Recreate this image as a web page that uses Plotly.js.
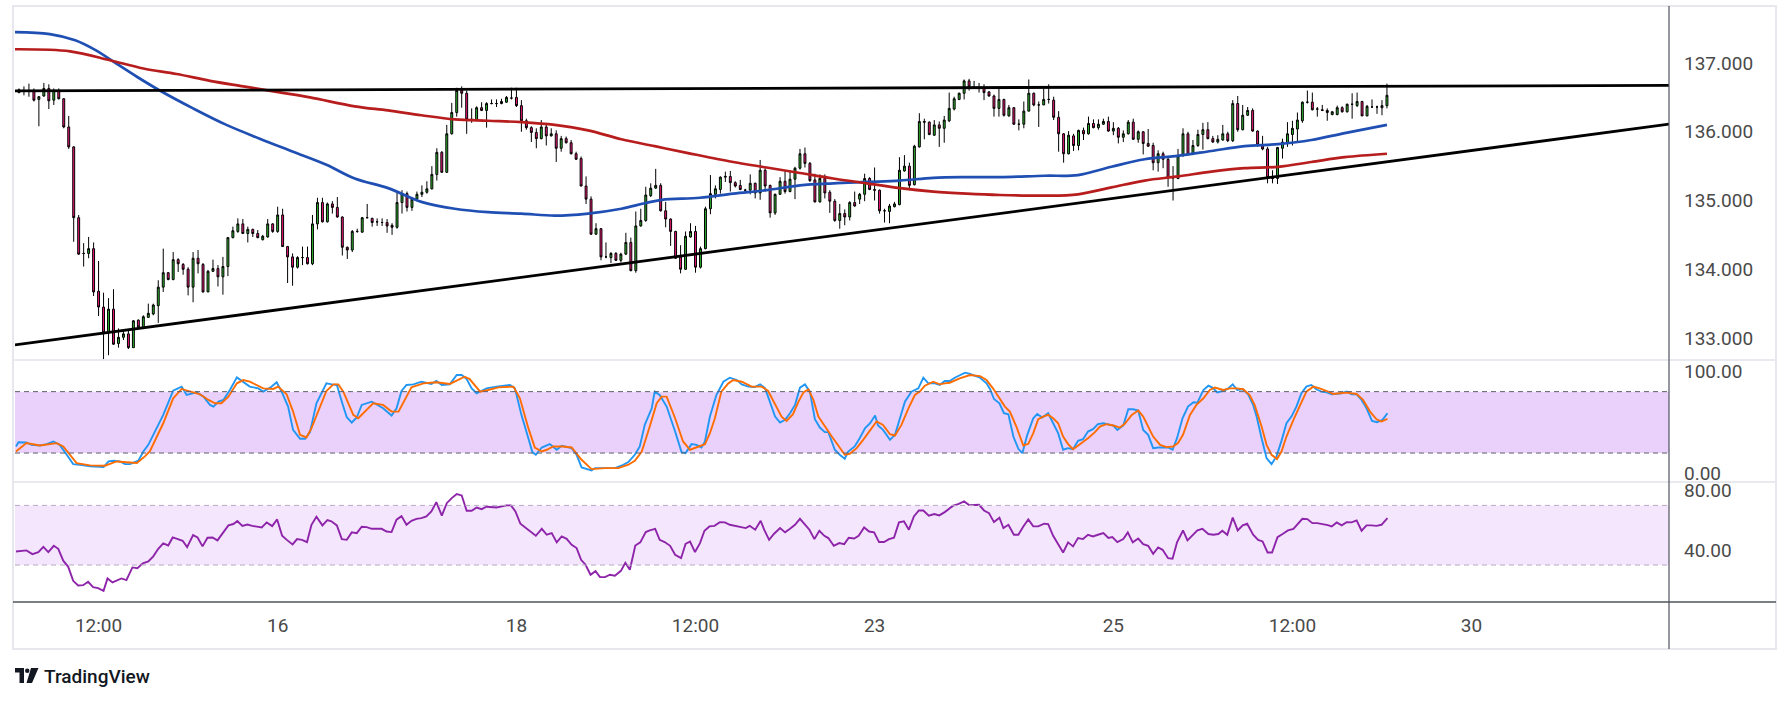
<!DOCTYPE html>
<html><head><meta charset="utf-8">
<script src="https://cdn.plot.ly/plotly-3.0.1.min.js"></script>
<style>html,body{margin:0;padding:0;background:#fff;overflow:hidden;} #chart{width:1791px;height:703px;}</style>
</head><body><div id="chart"></div>
<script>
// ---------- price candles (hourly bars, index 0..275) ----------
const openP = [136.61,136.60,136.59,136.60,136.47,136.52,136.63,136.46,136.60,136.48,
136.07,135.78,134.75,134.23,134.23,134.30,133.68,133.45,133.08,133.42,
132.92,133.01,133.06,132.86,133.26,133.15,133.30,133.35,133.47,133.74,
133.95,133.85,134.14,134.07,134.00,133.74,134.16,134.07,133.67,133.97,
134.01,133.89,134.04,134.46,134.55,134.66,134.52,134.58,134.52,134.43,
134.47,134.66,134.55,134.79,134.33,134.18,134.03,134.17,134.17,134.08,
134.66,134.97,134.69,134.95,134.90,134.76,134.32,134.28,134.55,134.54,
134.75,134.74,134.69,134.68,134.68,134.64,134.61,134.97,135.10,134.90,
135.02,135.09,135.12,135.17,135.38,135.70,135.41,135.97,136.28,136.60,
136.56,136.18,136.17,136.35,136.31,136.41,136.41,136.41,136.43,136.49,
136.50,136.38,136.16,136.06,135.99,135.90,136.07,135.94,135.97,135.76,
135.90,135.84,135.68,135.61,135.21,135.02,134.51,134.59,134.18,134.17,
134.23,134.13,134.22,134.39,133.98,134.63,134.71,135.07,135.18,135.22,
134.85,134.73,134.55,134.18,134.00,134.47,134.55,134.03,134.30,134.88,
135.09,135.16,135.34,135.35,135.26,135.22,135.15,135.15,135.25,135.11,
135.44,135.22,134.82,135.09,135.28,135.13,135.31,135.47,135.68,135.54,
135.30,134.98,135.32,135.12,134.99,134.71,134.81,134.76,134.97,135.02,
135.09,135.32,135.16,135.15,134.85,134.84,134.91,134.94,135.43,135.50,
135.23,135.78,136.15,136.14,135.95,136.10,136.05,136.16,136.33,136.47,
136.56,136.74,136.65,136.64,136.64,136.58,136.52,136.34,136.47,136.23,
136.35,136.11,136.11,136.30,136.56,136.39,136.39,136.47,136.46,136.21,
135.97,135.68,135.94,135.80,136.02,135.97,136.12,136.06,136.11,136.15,
136.01,136.05,135.92,135.97,136.14,135.89,136.00,135.83,135.80,135.55,
135.68,135.60,135.33,135.32,135.65,135.97,135.67,135.80,135.96,136.03,
135.90,135.85,135.88,135.97,135.87,136.41,136.03,136.24,136.31,136.01,
135.81,135.75,135.33,135.32,135.76,135.84,135.96,136.04,136.16,136.43,
136.43,136.33,136.32,136.31,136.25,136.25,136.35,136.29,136.40,136.38,
136.44,136.23,136.36,136.36,136.35,136.38];
const highP = [136.63,136.66,136.70,136.63,136.52,136.71,136.69,136.63,136.63,136.49,
136.23,135.79,134.79,134.38,134.47,134.39,134.12,133.66,133.58,133.71,
133.14,133.13,133.13,133.26,133.27,133.33,133.50,133.50,133.84,134.30,
133.96,134.25,134.16,134.09,134.03,134.25,134.28,134.09,133.99,134.14,
134.06,134.18,134.47,134.62,134.74,134.73,134.62,134.59,134.57,134.50,
134.73,134.67,134.91,134.88,134.34,134.23,134.19,134.33,134.33,134.79,
135.04,135.04,134.97,134.99,135.05,134.77,134.33,134.57,134.59,134.76,
134.95,134.75,134.74,134.74,134.73,134.67,135.13,135.15,135.13,135.05,
135.13,135.22,135.28,135.50,135.76,135.72,136.10,136.42,136.64,136.66,
136.60,136.34,136.37,136.43,136.43,136.47,136.47,136.48,136.52,136.64,
136.64,136.46,136.19,136.08,136.05,136.17,136.10,136.05,136.02,135.94,
135.93,135.88,135.71,135.64,135.35,135.06,134.67,134.60,134.39,134.25,
134.25,134.24,134.53,134.46,134.84,134.88,135.20,135.25,135.46,135.25,
134.98,134.74,134.56,134.35,134.55,134.67,134.63,134.33,134.91,135.37,
135.22,135.35,135.42,135.43,135.28,135.30,135.17,135.38,135.26,135.59,
135.47,135.23,135.10,135.34,135.44,135.44,135.49,135.75,135.77,135.56,
135.39,135.38,135.38,135.15,135.02,134.95,134.87,134.99,135.13,135.11,
135.39,135.34,135.48,135.16,134.88,134.95,134.98,135.63,135.66,135.55,
135.81,136.27,136.19,136.15,136.17,136.15,136.23,136.57,136.51,136.57,
136.76,136.77,136.74,136.71,136.69,136.59,136.54,136.63,136.48,136.39,
136.36,136.18,136.44,136.76,136.57,136.44,136.63,136.69,136.51,136.30,
135.98,136.01,135.97,136.03,136.06,136.22,136.18,136.18,136.19,136.22,
136.14,136.07,136.02,136.17,136.19,136.02,136.01,136.04,135.84,135.73,
135.71,135.65,135.50,135.75,136.05,136.00,135.88,136.03,136.13,136.14,
135.94,135.95,136.10,136.00,136.46,136.52,136.39,136.36,136.34,136.02,
135.94,135.78,135.44,135.78,135.90,136.14,136.16,136.28,136.44,136.60,
136.57,136.36,136.39,136.34,136.30,136.38,136.37,136.41,136.56,136.57,
136.45,136.39,136.47,136.38,136.46,136.70];
const lowP = [136.56,136.53,136.51,136.44,136.08,136.51,136.33,136.39,136.47,136.05,
135.75,134.40,134.21,134.04,134.16,133.61,133.32,132.69,132.75,132.90,
132.86,132.97,132.84,132.86,133.15,133.13,133.30,133.33,133.22,133.67,
133.84,133.84,133.96,133.92,133.62,133.52,133.94,133.66,133.67,133.96,
133.75,133.63,133.90,134.45,134.53,134.52,134.39,134.47,134.45,134.42,
134.46,134.53,134.53,134.33,133.80,133.76,134.01,134.06,134.07,134.06,
134.58,134.68,134.68,134.81,134.75,134.20,134.15,134.25,134.53,134.53,
134.74,134.62,134.63,134.63,134.53,134.50,134.59,134.81,134.84,134.85,
134.99,135.05,135.10,135.16,135.29,135.40,135.40,135.96,136.22,136.35,
135.97,136.13,136.16,136.30,136.06,136.40,136.36,136.40,136.42,136.47,
136.36,136.00,136.03,135.85,135.76,135.89,135.80,135.93,135.56,135.71,
135.83,135.67,135.59,135.21,134.95,134.50,134.50,134.13,134.16,134.09,
134.12,134.10,134.21,133.97,133.95,134.62,134.69,135.05,135.17,134.84,
134.61,134.34,134.15,133.94,133.99,134.46,133.95,134.01,134.29,134.80,
135.03,135.10,135.27,135.13,135.19,135.15,135.13,135.09,135.03,135.01,
135.13,134.75,134.79,135.08,135.10,135.12,135.02,135.45,135.48,135.27,
134.97,134.97,135.03,134.82,134.69,134.59,134.64,134.71,134.91,134.95,
134.99,135.15,135.00,134.81,134.68,134.67,134.90,134.93,135.42,135.17,
135.22,135.77,135.89,135.95,135.94,135.78,135.84,136.14,136.31,136.46,
136.47,136.60,136.63,136.57,136.46,136.51,136.22,136.22,136.22,136.22,
136.10,136.02,136.05,136.30,136.37,136.07,136.39,136.41,136.17,135.71,
135.55,135.67,135.72,135.73,135.88,135.96,136.05,136.03,136.10,136.00,
135.95,135.83,135.85,135.96,135.88,135.84,135.67,135.78,135.44,135.42,
135.47,135.20,135.00,135.31,135.64,135.66,135.66,135.78,135.74,135.89,
135.84,135.83,135.87,135.85,135.85,136.00,136.02,136.23,136.00,135.78,
135.73,135.25,135.25,135.24,135.61,135.78,135.80,135.84,136.13,136.41,
136.31,136.22,136.30,136.16,136.24,136.24,136.28,136.28,136.19,136.36,
136.23,136.23,136.35,136.26,136.24,136.34];
const closeP = [136.57,136.59,136.60,136.46,136.51,136.63,136.45,136.60,136.48,136.07,
135.78,134.75,134.22,134.23,134.30,133.67,133.45,133.08,133.42,132.91,
133.01,133.06,132.86,133.25,133.16,133.31,133.36,133.48,133.74,133.95,
133.85,134.14,134.08,134.00,133.74,134.16,134.08,133.67,133.97,134.01,
133.89,134.04,134.46,134.56,134.66,134.52,134.58,134.52,134.46,134.48,
134.66,134.55,134.79,134.33,134.18,134.03,134.17,134.17,134.08,134.66,
134.97,134.69,134.95,134.90,134.76,134.32,134.28,134.55,134.55,134.75,
134.75,134.68,134.69,134.68,134.63,134.61,134.97,135.10,134.90,135.02,
135.09,135.12,135.17,135.38,135.70,135.41,135.97,136.28,136.60,136.56,
136.18,136.18,136.35,136.31,136.41,136.41,136.41,136.44,136.50,136.49,
136.38,136.16,136.06,135.99,135.90,136.07,135.94,135.97,135.76,135.90,
135.84,135.68,135.60,135.21,135.02,134.51,134.59,134.18,134.18,134.23,
134.13,134.22,134.39,133.98,134.63,134.71,135.08,135.18,135.22,134.85,
134.73,134.55,134.16,134.00,134.48,134.55,134.03,134.30,134.88,135.10,
135.17,135.34,135.35,135.26,135.21,135.16,135.15,135.25,135.11,135.44,
135.21,134.82,135.09,135.28,135.13,135.31,135.47,135.68,135.54,135.29,
134.98,135.32,135.11,134.99,134.71,134.81,134.76,134.97,134.92,135.09,
135.32,135.16,135.15,134.85,134.85,134.92,134.95,135.44,135.50,135.22,
135.79,136.15,136.14,135.96,136.10,136.05,136.17,136.34,136.48,136.56,
136.74,136.65,136.64,136.64,136.57,136.52,136.34,136.47,136.24,136.35,
136.11,136.11,136.30,136.56,136.39,136.39,136.47,136.47,136.21,135.97,
135.68,135.95,135.80,136.02,135.97,136.12,136.06,136.11,136.15,136.01,
136.05,135.92,135.97,136.14,135.89,136.00,135.83,135.79,135.55,135.68,
135.60,135.33,135.33,135.65,135.97,135.67,135.80,135.96,136.03,135.90,
135.85,135.89,135.97,135.87,136.41,136.03,136.24,136.31,136.01,135.81,
135.75,135.33,135.32,135.77,135.85,135.97,136.05,136.17,136.43,136.43,
136.32,136.33,136.31,136.28,136.29,136.35,136.29,136.40,136.40,136.44,
136.23,136.37,136.36,136.36,136.38,136.53];

// ---------- moving averages (bar index, price) ----------
const maBlueIdx = [-0.8,6.2,11.3,15.3,19.6,23.7,28.3,35.0,41.7,48.4,55.1,61.8,67.5,74.2,80.9,87.6,94.3,101.0,107.7,114.4,121.1,125.8,129.2,136.9,143.6,150.3,157.0,163.7,170.4,177.1,183.8,190.5,197.2,206.2,212.9,219.6,226.3,233.0,239.7,246.4,253.1,259.8,266.5,275];
const maBlue = [137.45,137.42,137.33,137.19,136.99,136.80,136.60,136.34,136.10,135.90,135.71,135.52,135.32,135.18,134.98,134.88,134.83,134.81,134.78,134.81,134.88,134.96,135.01,135.04,135.10,135.15,135.22,135.25,135.27,135.29,135.33,135.34,135.34,135.36,135.37,135.49,135.60,135.65,135.72,135.79,135.82,135.88,135.98,136.10];
const maRedIdx = [-0.8,10.3,18.3,25.0,31.7,38.4,45.1,51.8,58.5,67.5,74.2,80.9,87.6,94.3,101.0,107.7,114.4,121.1,127.8,134.5,143.6,150.3,157.0,163.7,170.4,177.1,183.8,190.5,197.2,206.2,212.9,219.6,226.3,233.0,239.7,246.4,253.1,259.8,266.5,275];
const maRed = [137.20,137.17,137.04,136.92,136.84,136.74,136.66,136.58,136.50,136.37,136.31,136.24,136.18,136.16,136.14,136.10,136.02,135.89,135.79,135.69,135.56,135.48,135.40,135.32,135.25,135.18,135.13,135.10,135.08,135.07,135.09,135.19,135.29,135.35,135.42,135.47,135.49,135.56,135.63,135.68];

// ---------- trend lines ----------
const trendIdx = [-0.8, 331.7];
const resistance = [136.595, 136.675];
const support = [132.90, 136.11];

// ---------- stochastic ----------
const stochKIdx = [-0.6,-0.1,1.5,2.5,4.2,5.6,6.9,8.2,9.6,10.9,12.3,14.3,17.0,18.0,19.0,20.3,21.3,22.3,24.0,25.0,26.0,27.0,29.0,31.0,32.7,33.7,35.7,37.1,38.4,39.1,40.1,41.1,42.4,43.8,45.1,46.4,48.1,49.1,50.5,51.8,52.8,54.1,55.1,56.5,57.5,58.5,59.8,61.2,61.8,62.9,63.9,64.9,65.9,66.9,67.9,68.9,69.9,70.9,71.9,73.2,74.9,75.9,76.9,77.9,79.3,80.9,82.9,83.9,85.0,86.6,88.0,89.0,90.0,91.0,92.0,94.0,96.0,98.7,99.7,101.0,102.4,103.2,103.9,105.1,106.7,108.1,109.1,111.1,112.1,113.1,115.1,115.8,119.8,121.1,122.5,123.8,124.8,125.8,127.2,127.8,128.8,130.2,131.9,133.2,134.0,135.2,136.2,137.2,137.9,138.9,140.2,141.6,142.9,144.3,145.3,146.6,147.9,149.0,150.0,151.0,152.0,153.0,154.0,155.0,156.0,157.0,158.0,159.0,160.0,161.0,162.0,162.7,164.0,165.0,166.0,166.7,168.0,169.0,170.1,171.1,172.1,172.7,173.7,175.1,176.1,177.1,178.1,179.4,180.8,181.8,182.8,184.1,185.1,186.1,187.1,188.1,189.1,190.2,191.2,192.2,193.2,194.5,195.2,196.0,197.1,198.0,198.9,199.9,200.9,201.7,202.7,203.9,204.7,205.7,206.9,207.9,208.9,209.9,210.9,211.9,212.9,213.9,214.9,215.9,216.9,218.0,219.0,220.0,220.8,222.0,223.0,224.0,225.0,226.0,227.0,228.0,229.0,231.0,231.9,232.8,233.9,235.0,236.1,236.9,238.1,239.1,239.9,240.9,241.9,242.9,244.0,244.9,246.0,247.1,248.1,248.8,249.8,250.8,251.8,252.8,253.8,254.8,255.8,256.8,257.8,258.8,259.8,260.8,261.8,262.9,263.9,264.9,265.9,266.9,267.9,268.9,269.9,270.9,272.0,273.0,274.1,275.1];
const stochK = [26.4,30.6,30.3,28.0,27.4,28.7,31.3,28.0,18.3,9.2,8.6,7.0,6.3,11.8,12.5,11.8,9.2,9.2,12.5,21.5,28.0,37.8,57.3,81.0,84.9,76.7,79.3,75.1,67.0,65.4,70.2,71.9,81.6,93.9,89.7,84.9,83.2,80.0,83.9,89.1,80.0,65.4,42.6,33.9,33.9,40.4,68.6,83.2,88.1,87.1,86.5,70.2,55.0,49.8,54.7,67.0,68.6,70.2,67.6,63.7,56.6,63.7,80.6,86.5,87.1,89.7,87.5,90.4,86.5,87.1,96.2,96.2,92.3,83.2,78.4,83.2,84.9,86.5,83.2,57.3,34.5,20.9,18.3,25.4,28.7,23.2,27.1,24.8,18.3,6.0,3.0,5.3,5.3,7.6,11.2,18.3,26.4,47.5,63.7,80.0,76.7,65.4,41.0,20.9,19.9,28.7,28.0,25.4,31.3,55.6,76.7,89.7,93.6,91.3,87.1,84.9,84.5,87.1,83.2,70.2,55.6,49.8,52.4,58.9,67.0,83.9,87.1,80.0,53.0,44.9,40.4,40.4,23.2,18.3,14.4,21.5,26.4,34.5,44.3,49.1,56.6,46.9,42.6,32.9,37.8,54.0,70.2,80.0,83.2,93.6,88.1,88.1,86.5,90.4,90.4,93.6,95.6,98.5,97.2,95.6,93.6,88.1,82.6,72.8,68.6,58.9,57.9,36.1,24.1,19.9,37.8,54.0,58.2,54.7,58.9,49.1,39.4,23.2,24.8,23.8,31.9,33.5,41.0,43.3,48.2,49.1,48.2,46.9,42.6,46.9,62.8,62.8,61.5,42.6,37.8,24.8,25.4,25.4,23.2,34.5,54.0,65.4,69.6,69.3,81.6,85.8,83.9,79.3,80.6,82.3,87.1,81.6,82.3,77.4,67.0,55.6,34.5,15.0,9.2,16.7,31.9,49.1,55.6,65.4,78.4,84.9,86.5,82.3,80.0,79.3,77.4,77.7,78.4,80.0,77.4,77.4,71.9,63.7,51.4,50.1,52.4,58.9];
const stochDIdx = [-0.6,1.5,4.2,7.6,8.9,10.3,11.6,14.3,17.3,19.6,21.6,23.7,25.3,26.3,29.0,31.0,32.7,34.4,36.4,38.1,39.4,40.7,42.1,43.8,45.1,46.4,49.1,51.1,52.1,53.8,55.1,56.5,57.8,58.8,60.2,61.8,63.2,64.2,65.2,67.2,68.2,69.9,71.2,73.2,74.9,76.3,77.3,78.9,81.3,83.9,86.6,89.6,90.6,92.7,94.3,96.4,99.4,100.7,102.4,103.7,105.1,106.1,107.4,109.4,111.1,113.1,115.1,117.8,120.5,122.5,123.8,125.2,126.8,128.2,129.2,130.2,131.9,133.5,134.9,136.6,137.9,138.9,139.9,141.2,142.6,143.6,145.3,147.3,149.3,150.6,152.0,153.3,154.3,155.6,156.7,157.7,158.7,159.7,160.7,162.0,163.4,164.7,166.0,167.0,168.4,169.7,171.1,172.4,173.7,175.1,176.1,177.4,178.8,180.1,181.1,182.1,183.8,185.1,186.1,187.1,189.1,191.2,193.2,194.5,195.8,196.9,198.2,199.2,200.5,201.9,202.9,203.9,204.9,205.9,206.9,207.9,208.9,209.9,210.9,211.9,212.9,213.9,214.9,216.3,217.3,218.6,220.0,221.3,222.3,223.7,225.0,226.0,227.0,228.0,229.4,230.7,232.0,233.0,234.0,235.4,236.7,238.1,239.4,240.4,242.1,243.4,244.8,246.1,247.4,248.4,249.8,250.8,251.8,252.9,253.8,254.8,256.2,257.5,258.8,260.2,261.5,262.9,264.2,265.5,266.9,268.9,270.2,271.6,272.9,273.9,275.1];
const stochD = [21.5,29.7,27.4,29.7,26.4,18.3,10.2,7.9,7.6,11.8,10.8,10.2,16.7,21.5,49.1,73.5,82.6,80.0,77.4,71.9,68.6,68.6,75.1,88.1,91.3,89.7,83.2,82.6,84.9,77.4,60.5,37.8,35.2,44.3,60.5,80.6,87.1,87.1,80.0,57.3,54.0,62.1,68.6,67.0,60.5,60.5,70.2,84.2,88.1,89.1,87.5,94.6,92.3,80.0,81.6,84.2,84.9,73.5,44.3,25.4,21.5,23.2,26.4,26.4,25.4,13.4,4.3,5.3,5.3,8.6,12.5,21.5,45.9,68.6,75.1,75.1,54.0,31.3,23.2,26.4,28.7,39.4,54.0,80.0,88.1,91.3,89.7,84.9,84.9,80.6,67.0,55.6,51.4,57.9,70.2,79.3,82.3,71.9,55.6,45.9,36.1,27.4,18.3,19.3,24.8,32.9,41.7,50.8,47.5,38.4,37.1,47.5,63.7,76.7,80.0,85.8,89.7,87.1,88.1,88.7,93.0,96.2,95.2,91.3,83.2,75.1,65.4,60.5,45.9,27.4,29.0,39.4,53.0,55.6,57.3,54.0,49.1,36.1,28.7,23.8,27.4,30.3,34.5,40.4,45.9,48.2,46.9,44.9,48.5,57.3,61.5,55.6,45.9,36.1,28.0,25.8,26.4,29.7,37.8,57.3,67.0,73.5,81.6,83.9,81.6,83.2,83.2,82.3,76.7,67.0,45.9,28.0,18.3,14.1,21.5,36.1,52.4,65.4,80.0,84.9,83.2,80.6,77.7,78.4,79.0,77.7,71.9,60.5,53.0,50.8,53.4];

// ---------- RSI ----------
const rsiIdx = [-0.6,1.5,2.7,3.9,4.9,5.9,7.0,7.9,8.9,9.9,10.9,11.9,12.9,13.9,14.9,15.9,17.0,17.8,18.8,19.8,20.6,21.6,22.8,23.8,24.9,26.0,27.0,28.0,29.0,30.0,30.9,31.8,32.9,33.8,35.0,35.9,36.9,37.9,38.9,39.9,40.9,42.1,43.1,43.9,44.9,45.9,46.9,47.8,48.8,49.8,50.9,51.9,52.9,53.9,55.0,55.9,56.9,57.9,58.8,59.8,61.0,62.0,62.8,63.9,64.9,65.9,66.9,67.9,68.9,69.9,70.9,72.9,73.9,74.9,75.9,76.9,77.9,78.9,79.9,80.9,81.9,82.9,83.9,85.0,86.0,87.0,88.0,89.0,90.0,91.0,92.0,93.0,94.0,96.0,98.0,98.9,99.8,100.8,102.0,103.1,103.9,105.1,106.1,107.1,108.1,109.1,110.1,111.1,112.1,113.0,113.9,114.9,115.9,116.8,117.8,118.8,119.8,121.0,121.9,122.8,123.9,124.9,126.0,126.8,127.9,128.8,129.8,130.9,131.9,133.1,134.0,134.9,135.9,136.9,137.8,138.8,139.8,140.9,141.9,142.9,143.9,144.9,146.1,146.9,148.0,149.1,149.8,150.8,151.8,153.0,154.0,155.0,156.0,157.0,158.0,158.9,159.9,160.9,161.9,162.7,163.8,164.9,165.9,166.8,167.9,168.8,169.9,170.9,171.9,172.9,173.9,174.9,175.9,176.9,177.9,178.9,179.9,180.9,181.8,182.9,184.0,185.0,186.1,187.8,188.8,190.0,191.0,192.0,193.0,194.0,195.0,196.0,197.1,197.9,198.9,200.0,200.9,201.9,202.9,203.9,204.9,206.1,206.9,207.9,208.9,209.9,210.9,211.9,212.9,213.9,214.9,215.9,216.9,218.0,219.0,219.8,220.8,222.0,222.9,223.9,225.0,226.0,227.0,228.0,229.0,229.9,231.0,231.9,232.8,234.0,234.9,235.9,236.9,237.9,239.1,240.1,241.1,241.9,242.9,244.0,245.0,246.0,246.9,248.1,249.1,250.0,251.0,251.9,253.0,254.1,255.1,256.2,257.0,258.0,259.0,260.0,261.0,262.0,263.1,263.9,264.9,265.9,266.9,267.9,268.9,269.9,270.9,271.9,272.9,273.9,275.1];
const rsi = [39.1,39.8,37.3,38.7,42.2,38.7,42.9,40.9,32.9,28.8,19.4,16.3,16.5,18.8,15.2,14.5,12.7,21.0,18.3,19.9,21.0,19.9,28.4,27.9,31.1,32.4,35.8,40.9,44.5,43.1,48.5,47.6,46.3,42.0,50.1,48.5,42.5,48.3,48.5,46.5,50.8,56.6,57.5,59.5,56.3,57.2,56.3,55.7,55.2,58.6,56.1,60.6,49.6,46.7,43.8,47.4,46.9,45.4,57.0,62.4,56.6,60.1,59.3,56.6,47.4,46.9,51.9,51.4,55.7,55.4,54.3,54.3,52.5,52.1,60.4,62.8,57.0,59.7,61.0,61.5,62.6,65.9,72.2,63.1,71.5,74.9,77.6,76.7,66.4,66.4,68.6,67.5,69.1,68.6,70.0,70.0,66.0,57.7,54.8,52.1,49.6,54.3,50.3,51.4,45.2,49.2,47.6,43.6,41.4,33.5,30.2,23.5,25.9,21.9,21.9,23.5,22.8,26.1,31.5,26.8,43.1,45.2,52.1,53.2,54.3,46.9,45.4,42.9,36.9,34.6,44.2,45.8,38.7,44.7,53.0,55.9,56.3,58.8,58.6,57.0,56.3,55.2,54.8,56.3,53.7,59.7,53.7,46.9,51.0,54.8,51.9,54.3,57.0,61.0,57.5,53.7,47.4,53.0,49.6,48.1,42.9,44.7,44.0,48.3,47.8,49.6,55.2,52.5,51.9,45.4,45.4,47.4,48.3,58.6,59.3,53.7,62.6,66.6,66.6,63.1,64.2,63.3,65.5,69.8,70.9,72.7,70.2,70.4,70.4,66.6,64.8,58.8,61.7,54.8,57.0,50.3,50.3,55.9,60.6,55.9,55.9,57.7,57.5,49.6,44.3,38.4,45.2,42.5,48.1,47.4,50.3,49.2,50.3,51.4,48.1,48.7,45.4,47.4,51.9,45.2,47.8,44.0,42.9,37.5,41.8,40.2,34.6,34.2,45.2,53.2,46.5,49.8,53.2,54.3,50.8,50.3,50.8,53.0,50.3,61.9,53.2,56.6,57.7,50.3,46.9,45.8,38.4,38.4,48.7,51.0,53.2,54.3,57.0,61.0,60.8,58.1,58.1,57.7,56.8,55.9,58.6,56.6,58.8,58.6,59.9,53.0,56.6,56.6,56.3,57.0,61.5];

// ---------- axis ticks ----------
const xTickIdx = [16, 52, 100, 136, 172, 220, 256, 292];
const xTickText = ['12:00', '16', '18', '12:00', '23', '25', '12:00', '30'];
const priceTicks = [133, 134, 135, 136, 137];
const stochTicks = [0, 100];
const rsiTicks = [40, 80];
const stochBand = [20, 80];
const rsiBand = [30, 70];

// ---------- geometry helpers (pixel -> paper) ----------
const PL = 15, PR = 1669, PT = 8, PB = 602;
const px = x => (x - PL) / (PR - PL);
const py = y => (PB - y) / (PB - PT);
const barIdx = openP.map((_, i) => i);

const axisFont = {family: 'Roboto, "Noto Sans", sans-serif', size: 19, color: '#4a4a4a'};

const traces = [
  {type: 'scatter', mode: 'lines', x: maBlueIdx, y: maBlue, line: {color: '#1f4fb3', width: 2.7, shape: 'spline', smoothing: 1}, xaxis: 'x', yaxis: 'y'},
  {type: 'scatter', mode: 'lines', x: maRedIdx, y: maRed, line: {color: '#b81d1d', width: 2.7, shape: 'spline', smoothing: 1}, xaxis: 'x', yaxis: 'y'},
  {type: 'candlestick', x: barIdx, open: openP, high: highP, low: lowP, close: closeP, xaxis: 'x', yaxis: 'y',
   whiskerwidth: 0,
   increasing: {line: {color: '#000000', width: 1}, fillcolor: '#2db52d'},
   decreasing: {line: {color: '#000000', width: 1}, fillcolor: '#f5177b'}},
  {type: 'scatter', mode: 'lines', x: trendIdx, y: resistance, line: {color: '#000000', width: 2.8}, xaxis: 'x', yaxis: 'y'},
  {type: 'scatter', mode: 'lines', x: trendIdx, y: support, line: {color: '#000000', width: 2.8}, xaxis: 'x', yaxis: 'y'},
  {type: 'scatter', mode: 'lines', x: stochKIdx, y: stochK, line: {color: '#2196f3', width: 1.9}, xaxis: 'x', yaxis: 'y2'},
  {type: 'scatter', mode: 'lines', x: stochDIdx, y: stochD, line: {color: '#ff6d00', width: 1.9}, xaxis: 'x', yaxis: 'y2'},
  {type: 'scatter', mode: 'lines', x: rsiIdx, y: rsi, line: {color: '#8e24aa', width: 1.9}, xaxis: 'x', yaxis: 'y3'}
];

const shapes = [
  // stochastic band and levels
  {type: 'rect', xref: 'paper', yref: 'y2', x0: 0, x1: 1, y0: stochBand[0], y1: stochBand[1], fillcolor: '#e9d1fc', line: {width: 0}, layer: 'below'},
  {type: 'line', xref: 'paper', yref: 'y2', x0: 0, x1: 1, y0: stochBand[1], y1: stochBand[1], line: {color: '#5d606b', width: 1, dash: '5px,4px'}},
  {type: 'line', xref: 'paper', yref: 'y2', x0: 0, x1: 1, y0: stochBand[0], y1: stochBand[0], line: {color: '#5d606b', width: 1, dash: '5px,4px'}},
  // RSI band and levels
  {type: 'rect', xref: 'paper', yref: 'y3', x0: 0, x1: 1, y0: rsiBand[0], y1: rsiBand[1], fillcolor: '#f4e7fd', line: {width: 0}, layer: 'below'},
  {type: 'line', xref: 'paper', yref: 'y3', x0: 0, x1: 1, y0: rsiBand[1], y1: rsiBand[1], line: {color: '#b9a9c4', width: 1, dash: '5px,4px'}},
  {type: 'line', xref: 'paper', yref: 'y3', x0: 0, x1: 1, y0: rsiBand[0], y1: rsiBand[0], line: {color: '#b9a9c4', width: 1, dash: '5px,4px'}},
  // pane separators
  {type: 'line', xref: 'paper', yref: 'paper', x0: px(13), x1: px(1776), y0: py(360), y1: py(360), line: {color: '#e0e3eb', width: 1.5}},
  {type: 'line', xref: 'paper', yref: 'paper', x0: px(13), x1: px(1776), y0: py(482), y1: py(482), line: {color: '#e0e3eb', width: 1.5}},
  // outer frame
  {type: 'rect', xref: 'paper', yref: 'paper', x0: px(13), x1: px(1776), y0: py(649), y1: py(6), line: {color: '#e6e8ee', width: 2}},
  // time axis line and price axis line
  {type: 'line', xref: 'paper', yref: 'paper', x0: px(13), x1: px(1776), y0: 0, y1: 0, line: {color: '#50535e', width: 1.3}},
  {type: 'line', xref: 'paper', yref: 'paper', x0: 1, x1: 1, y0: py(649), y1: py(6), line: {color: '#50535e', width: 1.2}},
  // TradingView logo mark
  {type: 'rect', xref: 'paper', yref: 'paper', x0: px(15), x1: px(24), y0: py(672.5), y1: py(668), fillcolor: '#131722', line: {width: 0}},
  {type: 'rect', xref: 'paper', yref: 'paper', x0: px(19.5), x1: px(24), y0: py(683), y1: py(668), fillcolor: '#131722', line: {width: 0}},
  {type: 'circle', xref: 'paper', yref: 'paper', x0: px(25), x1: px(29.5), y0: py(673), y1: py(668.5), fillcolor: '#131722', line: {width: 0}},
  {type: 'path', xref: 'paper', yref: 'paper',
   path: 'M ' + px(31) + ' ' + py(668) + ' L ' + px(38.5) + ' ' + py(668) + ' L ' + px(32) + ' ' + py(683) + ' L ' + px(26.5) + ' ' + py(683) + ' Z',
   fillcolor: '#131722', line: {width: 0}}
];

const layout = {
  width: 1791, height: 703,
  margin: {l: PL, r: 1791 - PR, t: PT, b: 703 - PB, pad: 0},
  paper_bgcolor: '#ffffff', plot_bgcolor: '#ffffff',
  showlegend: false, hovermode: false, dragmode: false,
  boxgap: 0.45,
  xaxis: {anchor: 'y3', range: [-0.8, 331.7], tickmode: 'array', tickvals: xTickIdx, ticktext: xTickText,
          showgrid: false, zeroline: false, showline: false, ticks: '', tickfont: axisFont,
          ticklabelstandoff: 10, rangeslider: {visible: false}, fixedrange: true},
  yaxis: {domain: [py(360), 1], range: [132.68, 137.80], side: 'right', anchor: 'x', tickmode: 'array', tickvals: priceTicks,
          tickformat: '.3f', showgrid: false, zeroline: false, showline: false, ticks: '', tickfont: axisFont, ticklabelstandoff: 14, fixedrange: true},
  yaxis2: {domain: [py(482), py(360)], range: [-8.3, 110.9], side: 'right', anchor: 'x', tickmode: 'array', tickvals: stochTicks,
          tickformat: '.2f', showgrid: false, zeroline: false, showline: false, ticks: '', tickfont: axisFont, ticklabelstandoff: 14, fixedrange: true},
  yaxis3: {domain: [0, py(482)], range: [5.2, 85.7], side: 'right', anchor: 'x', tickmode: 'array', tickvals: rsiTicks,
          tickformat: '.2f', showgrid: false, zeroline: false, showline: false, ticks: '', tickfont: axisFont, ticklabelstandoff: 14, fixedrange: true},
  shapes: shapes,
  annotations: [
    {xref: 'paper', yref: 'paper', x: px(42), y: py(676), xanchor: 'left', yanchor: 'middle', showarrow: false,
     text: 'TradingView', font: {family: 'Roboto, "Noto Sans", sans-serif', size: 19, color: '#131722', weight: 500}}
  ]
};

Plotly.newPlot('chart', traces, layout, {displayModeBar: false, staticPlot: true});
</script></body></html>
